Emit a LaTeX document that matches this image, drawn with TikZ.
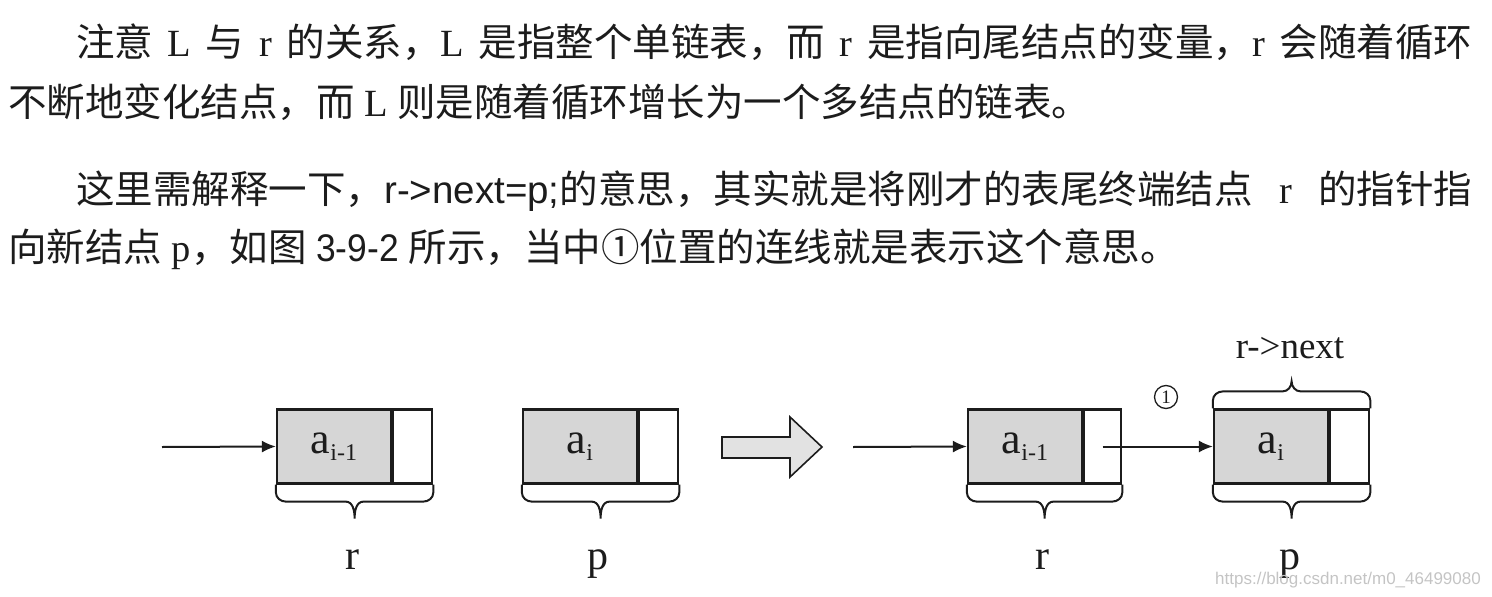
\documentclass[tikz,border=0pt]{standalone}
\usepackage{fontspec}
\setmainfont{Liberation Serif}
\newfontfamily\cjk{Noto Sans CJK SC}
\newfontfamily\sfn[FakeStretch=0.92]{Liberation Sans}
\newfontfamily\sfw{Liberation Sans}
\newfontfamily\wmfont{Liberation Sans}
\usetikzlibrary{arrows.meta,calc}
\definecolor{ink}{HTML}{1C1C1C}
\definecolor{boxgray}{HTML}{D6D6D6}
\definecolor{arrowgray}{HTML}{E2E2E2}
\definecolor{wmgray}{HTML}{C4C4C4}
\newcommand{\C}[1]{{\cjk #1}}
\newcommand{\brdown}[2]{\draw[bracestyle] let \p1=(#1), \p2=(#2), \n1={(\x1+\x2)/2} in
  (\x1,\y1) -- (\x1,\y1-8) to[out=-90,in=180] (\x1+10,\y1-17) -- (\n1-9,\y1-17)
  to[out=0,in=90] (\n1,\y1-34) to[out=90,in=180] (\n1+9,\y1-17) -- (\x2-10,\y1-17)
  to[out=0,in=-90] (\x2,\y1-8) -- (\x2,\y1);}
\newcommand{\brup}[2]{\draw[bracestyle] let \p1=(#1), \p2=(#2), \n1={(\x1+\x2)/2} in
  (\x1,\y1) -- (\x1,\y1+8) to[out=90,in=180] (\x1+10,\y1+17) -- (\n1-9,\y1+17)
  to[out=0,in=-90] (\n1,\y1+27) to[out=-90,in=180] (\n1+9,\y1+17) -- (\x2-10,\y1+17)
  to[out=0,in=90] (\x2,\y1+8) -- (\x2,\y1);}
\begin{document}
\begin{tikzpicture}[x=1pt,y=-1pt,
  every node/.style={text=ink},
  para/.style={anchor=base west, inner sep=0pt, font=\fontsize{38.5}{38.5}\selectfont},
  datbox/.style={draw=ink, line width=2.2pt, fill=boxgray, minimum width=114pt, minimum height=74pt, inner sep=0pt, font=\fontsize{44}{44}\selectfont},
  ptrbox/.style={draw=ink, line width=2.2pt, minimum width=39pt, minimum height=74pt, inner sep=0pt, anchor=west},
  lbl/.style={anchor=base, inner sep=0pt, font=\fontsize{42}{42}\selectfont},
  link/.style={draw=ink, line width=2pt, -{Latex[length=14pt,width=12pt]}},
  bracestyle/.style={draw=ink, line width=2pt},
  circlbl/.style={circle, draw=ink, line width=1.3pt, minimum size=23pt, inner sep=0pt, font=\fontsize{19}{19}\selectfont}
]
\useasboundingbox (0,0) rectangle (1492,597);

% paragraph text
\node[para] (t1) at (76,56) {\makebox[1396pt][s]{\C{注意} L \C{与} r \C{的关系，}L \C{是指整个单链表，而} r \C{是指向尾结点的变量，}r \C{会随着循环}}};
\node[para] (t2) at (8,116) {\C{不断地变化结点，而} L \C{则是随着循环增长为一个多结点的链表。}};
\node[para] (t3) at (76,203) {\makebox[1396pt][s]{\C{这里需解释一下，}{\sfw r->next=p;}\C{的意思，其实就是将刚才的表尾终端结点} r \C{的指针指}}};
\node[para] (t4) at (8,261) {\C{向新结点} p\C{，如图} {\sfn 3-9-2} \C{所示，当中①位置的连线就是表示这个意思。}};

% left: r
\node[datbox] (r1d) at (334,446.5) {a\raisebox{-7pt}{\fontsize{24}{24}\selectfont i-1}};
\node[ptrbox] (r1p) at (r1d.east) {};
\coordinate (in1) at (162,447);
\draw[link] (in1) -- (r1d.west);
\brdown{r1d.south west}{r1p.south east}
\node[lbl] (lr1) at (352,569) {r};

% middle: p
\node[datbox] (p1d) at (580,446.5) {a\raisebox{-7pt}{\fontsize{24}{24}\selectfont i}};
\node[ptrbox] (p1p) at (p1d.east) {};
\brdown{p1d.south west}{p1p.south east}
\node[lbl] (lp1) at (598,569) {p};

% block arrow
\draw[draw=ink, line width=1.6pt, fill=arrowgray, line join=miter]
  (722,437) -- (790,437) -- (790,417) -- (822,447) -- (790,477) -- (790,458) -- (722,458) -- cycle;

% right: r
\node[datbox] (r2d) at (1025,446.5) {a\raisebox{-7pt}{\fontsize{24}{24}\selectfont i-1}};
\node[ptrbox, minimum width=37pt] (r2p) at (r2d.east) {};
\coordinate (in2) at (853,447);
\draw[link] (in2) -- (r2d.west);
\brdown{r2d.south west}{r2p.south east}
\node[lbl] (lr2) at (1042,569) {r};

% right: p
\node[datbox] (p2d) at (1271,446.5) {a\raisebox{-7pt}{\fontsize{24}{24}\selectfont i}};
\node[ptrbox] (p2p) at (p2d.east) {};
\draw[link] (r2p.center) -- (p2d.west);
\node[circlbl] (c1) at (1166,397) {1};
\brdown{p2d.south west}{p2p.south east}
\brup{p2d.north west}{p2p.north east}
\node[lbl] (lp2) at (1290,569) {p};
\node[lbl, font=\fontsize{37}{37}\selectfont] (lnext) at (1290,358) {r->next};

% watermark
\node[anchor=base east, inner sep=0pt, text=wmgray, font=\wmfont\fontsize{17}{17}\selectfont] (wm) at (1481,584) {https://blog.csdn.net/m0\_46499080};
\end{tikzpicture}
\end{document}
